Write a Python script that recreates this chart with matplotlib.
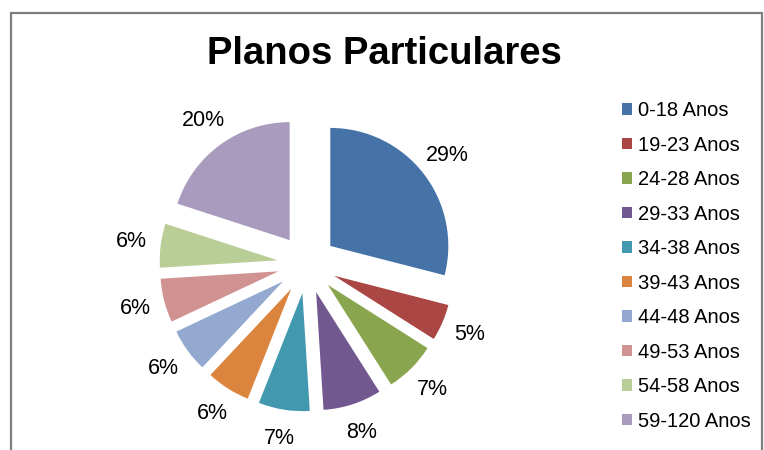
import matplotlib
matplotlib.use("Agg")
import matplotlib.pyplot as plt
from matplotlib.patches import Rectangle

plt.rcParams['font.family'] = ['Liberation Sans', 'DejaVu Sans']

# Faixas etárias e participação (%)
faixas = ['0-18 Anos', '19-23 Anos', '24-28 Anos', '29-33 Anos', '34-38 Anos',
          '39-43 Anos', '44-48 Anos', '49-53 Anos', '54-58 Anos', '59-120 Anos']
valores = [29, 5, 7, 8, 7, 6, 6, 6, 6, 20]
cores = ['#4572A7', '#AA4643', '#89A54E', '#71588F', '#4198AF',
         '#DB843D', '#93A9CF', '#D19392', '#B9CD96', '#A99BBD']

W, H = 764, 450
fig = plt.figure(figsize=(W / 100, H / 100), dpi=100)

# moldura cinza do gráfico
fig.add_artist(Rectangle((10.5 / W, -0.1), (762 - 10.5) / W, (H - 12.5) / H + 0.1,
                         transform=fig.transFigure, fill=False,
                         edgecolor='#7f7f7f', linewidth=1.6))

fig.text(384 / W, 1 - 54 / H, 'Planos Particulares', ha='center', va='center',
         fontsize=27.5, fontweight='bold')

# eixo da pizza: centro (307, 264) px, raio 118 px
cx, cy, r = 307, 264, 118
lado = 400
ax = fig.add_axes([(cx - lado / 2) / W, (H - cy - lado / 2) / H, lado / W, lado / H])
wedges, _, pcts = ax.pie(valores, colors=cores, startangle=90, counterclock=False,
                         explode=[0.25] * len(valores), autopct='%1.0f%%',
                         pctdistance=1.25, wedgeprops=dict(linewidth=0),
                         textprops=dict(fontsize=15.5, color='black'))
lim = lado / 2 / r
ax.set_xlim(-lim, lim)
ax.set_ylim(-lim, lim)
ax.set_aspect('equal')
ax.axis('off')

fig.legend(wedges, faixas, loc='upper left', bbox_to_anchor=(614 / W, 1 - 93 / H),
           frameon=False, fontsize=14.5, handlelength=0.5, handleheight=0.5,
           handletextpad=0.3, labelspacing=0.77, borderaxespad=0)

fig.savefig('out.png', dpi=100)
